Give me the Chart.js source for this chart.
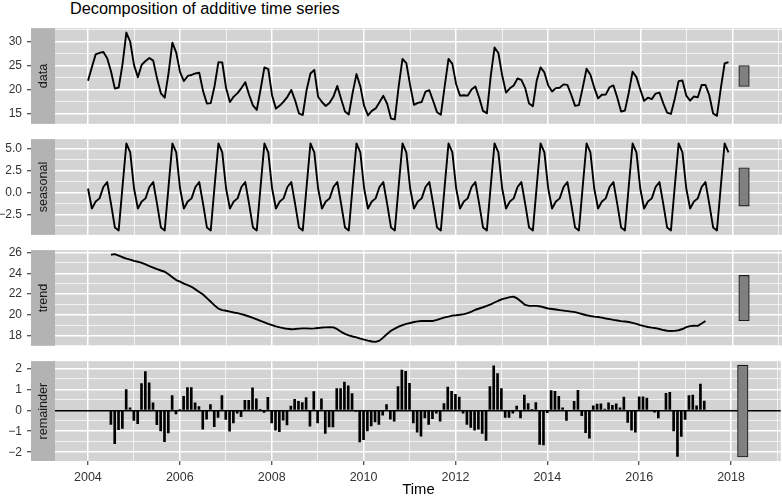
<!DOCTYPE html>
<html>
<head>
<meta charset="utf-8">
<script src="https://cdn.jsdelivr.net/npm/chart.js@4.4.1/dist/chart.umd.min.js"></script>
<style>
  body { margin: 0; background: #fff; width: 782px; height: 496px; overflow: hidden; position: relative; font-family: "Liberation Sans", Arial, sans-serif; }
  canvas { position: absolute; left: 0; }
  #titulo { position: absolute; left: 70px; top: 0px; font-size: 16.3px; line-height: 16px; color: #000; white-space: nowrap; }
  #eixo-x { position: absolute; left: 55px; width: 727px; top: 482px; text-align: center; font-size: 14.8px; line-height: 14.5px; color: #000; }
</style>
</head>
<body>
<div id="titulo">Decomposition of additive time series</div>
<canvas id="painel-data" width="782" height="120" style="top:16px"></canvas>
<canvas id="painel-seasonal" width="782" height="120" style="top:127px"></canvas>
<canvas id="painel-trend" width="782" height="120" style="top:238px"></canvas>
<canvas id="painel-remainder" width="782" height="142" style="top:349px"></canvas>
<div id="eixo-x">Time</div>
<script>
Chart.defaults.font.family = '"Liberation Sans", Arial, sans-serif';
Chart.defaults.animation = false;

// serie mensal, jan 2004 a dez 2017
const dataValues = [
  21.9, 24.7, 27.4, 27.7, 27.9, 26.6, 23.82, 20.27, 20.51, 25.38, 31.94, 30.03,
  25.17, 22.66, 25.25, 26.03, 26.64, 26.1, 22.41, 19.3, 18.38, 23.52, 29.85, 27.76,
  23.71, 21.85, 22.91, 23.11, 23.43, 23.58, 19.75, 17.18, 17.25, 20.82, 25.79, 25.74,
  20.4, 17.48, 18.6, 19.34, 20.39, 21.62, 19.0, 16.78, 15.83, 20.15, 24.69, 24.33,
  18.86, 16.11, 16.74, 17.56, 18.57, 20.0, 17.84, 15.1, 14.78, 19.99, 23.43, 24.16,
  18.58, 17.49, 16.66, 17.34, 18.62, 20.84, 18.09, 15.5, 14.89, 19.39, 23.3, 20.78,
  16.66, 14.7, 15.65, 16.15, 17.46, 18.77, 17.12, 14.04, 13.86, 20.68, 26.45, 25.57,
  20.94, 16.88, 17.29, 17.49, 19.66, 19.93, 17.7, 15.37, 14.83, 20.76, 26.45, 25.41,
  21.17, 18.81, 18.9, 18.81, 20.11, 20.73, 18.4, 15.63, 15.14, 22.83, 28.83, 27.69,
  23.0, 19.44, 20.34, 20.94, 22.38, 22.08, 20.38, 17.18, 16.61, 21.92, 24.7, 23.64,
  20.94, 19.67, 20.38, 20.44, 21.15, 21.06, 19.0, 16.69, 16.83, 20.49, 24.41, 23.14,
  20.49, 18.25, 19.01, 19.03, 20.56, 20.93, 18.45, 15.51, 15.7, 19.42, 23.8, 22.66,
  20.1, 17.72, 18.38, 18.08, 19.24, 19.45, 17.22, 15.27, 15.01, 18.15, 21.83, 21.96,
  18.82, 17.78, 18.64, 18.46, 21.03, 21.04, 18.9, 15.1, 14.6, 20.3, 25.5, 25.8
];

const seasonalValues = [
  0.46, -1.82, -1.02, -0.67, 0.63, 1.2, -1.3, -3.99, -4.33, 0.7, 5.6, 4.59,
  0.46, -1.82, -1.02, -0.67, 0.63, 1.2, -1.3, -3.99, -4.33, 0.7, 5.6, 4.59,
  0.46, -1.82, -1.02, -0.67, 0.63, 1.2, -1.3, -3.99, -4.33, 0.7, 5.6, 4.59,
  0.46, -1.82, -1.02, -0.67, 0.63, 1.2, -1.3, -3.99, -4.33, 0.7, 5.6, 4.59,
  0.46, -1.82, -1.02, -0.67, 0.63, 1.2, -1.3, -3.99, -4.33, 0.7, 5.6, 4.59,
  0.46, -1.82, -1.02, -0.67, 0.63, 1.2, -1.3, -3.99, -4.33, 0.7, 5.6, 4.59,
  0.46, -1.82, -1.02, -0.67, 0.63, 1.2, -1.3, -3.99, -4.33, 0.7, 5.6, 4.59,
  0.46, -1.82, -1.02, -0.67, 0.63, 1.2, -1.3, -3.99, -4.33, 0.7, 5.6, 4.59,
  0.46, -1.82, -1.02, -0.67, 0.63, 1.2, -1.3, -3.99, -4.33, 0.7, 5.6, 4.59,
  0.46, -1.82, -1.02, -0.67, 0.63, 1.2, -1.3, -3.99, -4.33, 0.7, 5.6, 4.59,
  0.46, -1.82, -1.02, -0.67, 0.63, 1.2, -1.3, -3.99, -4.33, 0.7, 5.6, 4.59,
  0.46, -1.82, -1.02, -0.67, 0.63, 1.2, -1.3, -3.99, -4.33, 0.7, 5.6, 4.59,
  0.46, -1.82, -1.02, -0.67, 0.63, 1.2, -1.3, -3.99, -4.33, 0.7, 5.6, 4.59,
  0.46, -1.82, -1.02, -0.67, 0.63, 1.2, -1.3, -3.99, -4.33, 0.7, 5.6, 4.59
];

// tendencia e resto: sem valor nos 6 primeiros e 6 ultimos meses
const trendValues = [
  null, null, null, null, null, null, 25.79, 25.85, 25.7, 25.55, 25.42, 25.32,
  25.2, 25.12, 25.0, 24.85, 24.7, 24.55, 24.4, 24.27, 24.15, 23.9, 23.62, 23.35,
  23.2, 23.0, 22.85, 22.7, 22.45, 22.2, 21.95, 21.6, 21.25, 20.9, 20.6, 20.45,
  20.38, 20.3, 20.22, 20.15, 20.06, 19.95, 19.83, 19.7, 19.55, 19.4, 19.26, 19.12,
  19.0, 18.88, 18.78, 18.7, 18.64, 18.6, 18.62, 18.66, 18.68, 18.68, 18.66, 18.68,
  18.72, 18.76, 18.78, 18.8, 18.78, 18.6, 18.35, 18.15, 18.0, 17.9, 17.82, 17.7,
  17.6, 17.5, 17.42, 17.38, 17.5, 17.8, 18.15, 18.45, 18.65, 18.85, 19.0, 19.12,
  19.2, 19.3, 19.36, 19.4, 19.4, 19.4, 19.4, 19.5, 19.62, 19.74, 19.82, 19.92,
  19.95, 20.0, 20.06, 20.15, 20.3, 20.48, 20.6, 20.72, 20.85, 21.0, 21.18, 21.35,
  21.5, 21.6, 21.7, 21.75, 21.55, 21.25, 20.95, 20.85, 20.85, 20.85, 20.8, 20.7,
  20.6, 20.55, 20.5, 20.45, 20.4, 20.35, 20.3, 20.25, 20.15, 20.05, 19.95, 19.88,
  19.82, 19.78, 19.72, 19.64, 19.58, 19.5, 19.44, 19.38, 19.34, 19.3, 19.22, 19.12,
  19.0, 18.9, 18.82, 18.75, 18.7, 18.62, 18.52, 18.45, 18.43, 18.44, 18.5, 18.62,
  18.8, 18.9, 18.93, 18.92, 19.15, 19.4, null, null, null, null, null, null
];

const remainderValues = [
  null, null, null, null, null, null, -0.67, -1.59, -0.92, -0.87, 0.99, 0.12,
  -0.49, -0.64, 1.27, 1.85, 1.31, 0.35, -0.69, -0.98, -1.5, -1.08, 0.7, -0.18,
  0.05, 0.67, 1.08, 1.08, 0.35, 0.18, -0.9, -0.43, 0.27, -0.78, -0.34, 0.7,
  -0.44, -1.0, -0.6, -0.14, -0.3, 0.47, 0.47, 1.07, 0.55, 0.05, -0.1, 0.62,
  -0.6, -0.95, -1.02, -0.47, -0.7, 0.2, 0.52, 0.43, 0.37, 0.61, -0.76, 0.89,
  -0.6, 0.55, -1.1, -0.79, -0.79, 1.04, 1.04, 1.34, 1.16, 0.79, -0.05, -1.51,
  -1.4, -0.98, -0.75, -0.56, -0.67, -0.23, 0.27, -0.42, -0.52, 1.13, 1.92, 1.86,
  1.28, -0.6, -1.05, -1.24, -0.37, -0.67, -0.4, -0.14, -0.52, 0.32, 1.1, 0.9,
  0.76, 0.63, -0.14, -0.67, -0.82, -0.95, -0.9, -1.1, -1.44, 1.13, 2.12, 1.75,
  1.04, -0.34, -0.34, -0.14, 0.2, -0.37, 0.73, 0.32, 0.03, 0.37, -1.63, -1.65,
  -0.12, 0.94, 0.9, 0.66, 0.12, -0.49, 0.0, 0.43, 0.95, -0.26, -1.07, -1.33,
  0.21, 0.29, 0.31, 0.06, 0.35, 0.23, 0.31, 0.12, 0.63, -0.58, -0.95, -1.05,
  0.64, 0.64, 0.58, 0.0, -0.09, -0.37, 0.0, 0.81, 0.85, -0.99, -2.2, -1.25,
  -0.44, 0.7, 0.73, 0.21, 1.25, 0.44, null, null, null, null, null, null
];

// barras de escala a direita (mesma altura em todos os paineis)
const rangeBars = [[20.71, 25.09], [-1.55, 2.82], [19.42, 23.80], [-2.23, 2.15]];

// ticks
const xMajorTicks = [2004, 2006, 2008, 2010, 2012, 2014, 2016, 2018];
const xMinorTicks = [2003, 2005, 2007, 2009, 2011, 2013, 2015, 2017, 2019];
const dataTicks = [15, 20, 25, 30];
const dataMinor = [17.5, 22.5, 27.5, 32.5];
const seasonalTicks = [-2.5, 0, 2.5, 5];
const seasonalMinor = [-3.75, -1.25, 1.25, 3.75];
const trendTicks = [18, 20, 22, 24, 26];
const trendMinor = [17, 19, 21, 23, 25];
const remainderTicks = [-2, -1, 0, 1, 2];
const remainderMinor = [-1.5, -0.5, 0.5, 1.5];

const time = dataValues.map((v, i) => 2004 + i / 12);
const rangeBarX = 2018.255;

// fundo do painel + faixa cinza com o nome
const panelPlugin = {
  id: 'panel',
  beforeDraw(chart) {
    const a = chart.chartArea, c = chart.ctx;
    c.save();
    c.fillStyle = '#D3D3D3';
    c.fillRect(a.left, a.top, a.right - a.left, a.bottom - a.top);
    c.restore();
  },
  afterDraw(chart, args, opts) {
    const a = chart.chartArea, c = chart.ctx;
    c.save();
    c.fillStyle = '#B3B3B3';
    c.fillRect(a.left, a.top, 24, a.bottom - a.top);
    c.translate(a.left + 12.5, (a.top + a.bottom) / 2);
    c.rotate(-Math.PI / 2);
    c.fillStyle = '#1A1A1A';
    c.font = '12.6px "Liberation Sans", Arial, sans-serif';
    c.textAlign = 'center';
    c.textBaseline = 'middle';
    c.fillText(opts.text, 0, 0);
    c.restore();
  }
};

function xScale(showLabels) {
  const all = xMajorTicks.concat(xMinorTicks).sort((a, b) => a - b);
  return {
    type: 'linear',
    min: 2002.761,
    max: 2019.08,
    offset: false,
    afterBuildTicks: s => { s.ticks = all.map(v => ({ value: v })); },
    afterFit: s => { s.height = showLabels ? 30 : 0; },
    border: { display: false },
    grid: {
      offset: false,
      color: '#FFFFFF',
      lineWidth: c => xMajorTicks.includes(c.tick.value) ? 1.5 : 0.7,
      drawTicks: showLabels,
      tickLength: 4,
      tickWidth: 1.1,
      tickColor: c => xMajorTicks.includes(c.tick.value) ? '#333333' : 'rgba(0,0,0,0)'
    },
    ticks: {
      display: showLabels,
      autoSkip: false,
      maxRotation: 0,
      padding: 5,
      color: '#333333',
      font: { size: 12.5 },
      callback: v => xMajorTicks.includes(v) ? String(v) : ''
    }
  };
}

function yScale(min, max, major, minor, decimals, zeroLine) {
  const all = major.concat(minor).sort((a, b) => a - b);
  return {
    min: min,
    max: max,
    afterBuildTicks: s => { s.ticks = all.map(v => ({ value: v })); },
    afterFit: s => { s.width = 31; },
    border: { display: false },
    grid: {
      color: c => (zeroLine && c.tick.value === 0) ? '#000000' : '#FFFFFF',
      lineWidth: c => major.includes(c.tick.value) ? 1.5 : 0.7,
      tickLength: 4,
      tickWidth: 1.1,
      tickColor: c => major.includes(c.tick.value) ? '#333333' : 'rgba(0,0,0,0)'
    },
    ticks: {
      autoSkip: false,
      padding: 5,
      color: '#333333',
      font: { size: 12 },
      callback: v => major.includes(v) ? v.toFixed(decimals).replace('-', '\u2212') : ''
    }
  };
}

function lineSet(values) {
  return {
    type: 'line',
    data: time.map((t, i) => ({ x: t, y: values[i] })),
    borderColor: '#000000',
    borderWidth: 1.9,
    borderJoinStyle: 'round',
    pointRadius: 0,
    fill: false,
    spanGaps: false,
    order: 2
  };
}

function rangeSet(range) {
  return {
    type: 'bar',
    data: [{ x: rangeBarX, y: range }],
    backgroundColor: '#808080',
    borderColor: '#1A1A1A',
    borderWidth: 1.1,
    borderSkipped: false,
    barThickness: 10.5,
    grouped: false,
    order: 1
  };
}

function panelOptions(stripText, xs, ys, padBottom) {
  return {
    responsive: false,
    animation: false,
    layout: { padding: { top: 8, bottom: padBottom, left: 0, right: 0 } },
    plugins: {
      legend: { display: false },
      tooltip: { enabled: false },
      panel: { text: stripText }
    },
    scales: { x: xs, y: ys }
  };
}

// painel data
new Chart(document.getElementById('painel-data'), {
  type: 'line',
  data: { datasets: [lineSet(dataValues), rangeSet(rangeBars[0])] },
  options: panelOptions('data', xScale(false), yScale(12.95, 32.85, dataTicks, dataMinor, 0, false), 8),
  plugins: [panelPlugin]
});

// painel seasonal
new Chart(document.getElementById('painel-seasonal'), {
  type: 'line',
  data: { datasets: [lineSet(seasonalValues), rangeSet(rangeBars[1])] },
  options: panelOptions('seasonal', xScale(false), yScale(-4.83, 6.09, seasonalTicks, seasonalMinor, 1, false), 8),
  plugins: [panelPlugin]
});

// painel trend
new Chart(document.getElementById('painel-trend'), {
  type: 'line',
  data: { datasets: [lineSet(trendValues), rangeSet(rangeBars[2])] },
  options: panelOptions('trend', xScale(false), yScale(17.0, 26.23, trendTicks, trendMinor, 0, false), 8),
  plugins: [panelPlugin]
});

// painel remainder (barras verticais a partir do zero)
new Chart(document.getElementById('painel-remainder'), {
  type: 'bar',
  data: {
    datasets: [
      {
        type: 'bar',
        data: time.map((t, i) => ({ x: t, y: remainderValues[i] })),
        backgroundColor: '#000000',
        barThickness: 2,
        grouped: false,
        order: 2
      },
      rangeSet(rangeBars[3])
    ]
  },
  options: panelOptions('remainder', xScale(true), yScale(-2.42, 2.34, remainderTicks, remainderMinor, 0, true), 0),
  plugins: [panelPlugin]
});
</script>
</body>
</html>
